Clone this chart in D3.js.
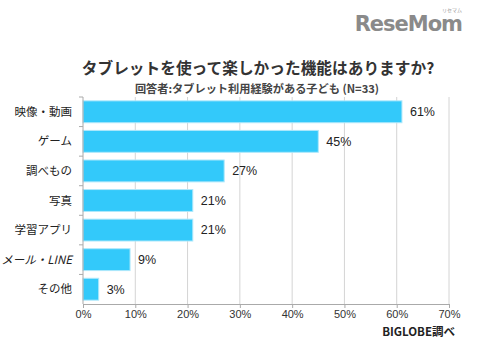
<!DOCTYPE html>
<html><head><meta charset="utf-8">
<script src="https://cdn.jsdelivr.net/npm/d3@7"></script>
<style>body{margin:0;background:#fff}svg{display:block}</style>
</head><body>
<svg id="c" width="477" height="350"></svg>
<script>
const categories = ["映像・動画","ゲーム","調べもの","写真","学習アプリ","メール・LINE","その他"];
const values = [61,45,27,21,21,9,3];
const ticks = [0,10,20,30,40,50,60,70];
const title = "タブレットを使って楽しかった機能はありますか?";
const subtitle = "回答者:タブレット利用経験がある子ども (N=33)";
const source = "BIGLOBE調べ";

const svg = d3.select("#c");
const font = "'Noto Sans CJK JP','Noto Sans',sans-serif";
const m = {l:83, r:449, t:97, b:304};
const x = d3.scaleLinear().domain([0,70]).range([m.l,m.r]);
const y = d3.scaleBand().domain(categories).range([m.t,m.b]).paddingInner(0.26).paddingOuter(0.13);

// logo
svg.append("text").attr("x",462).attr("y",31).attr("text-anchor","end")
  .attr("font-family","'DejaVu Sans',sans-serif").attr("font-weight","bold").attr("font-size",21)
  .attr("fill","#8a8a8a").attr("letter-spacing",-1).text("ReseMom");
svg.append("text").attr("x",452).attr("y",12).attr("text-anchor","middle").attr("font-family",font)
  .attr("font-size",5).attr("fill","#999").text("リセマム");

svg.append("text").attr("x",258).attr("y",74).attr("text-anchor","middle").attr("font-family",font)
  .attr("font-weight","bold").attr("font-size",15.7).attr("fill","#333").text(title);
svg.append("text").attr("x",257).attr("y",93).attr("text-anchor","middle").attr("font-family",font)
  .attr("font-weight","bold").attr("font-size",11.2).attr("fill","#444").text(subtitle);

// gridlines
svg.append("g").selectAll("line").data(ticks.slice(1)).join("line")
  .attr("x1",d=>x(d)).attr("x2",d=>x(d)).attr("y1",m.t).attr("y2",m.b)
  .attr("stroke","#d4d4d4").attr("stroke-width",1);

// bars
svg.append("g").selectAll("rect").data(values).join("rect")
  .attr("x",x(0)).attr("y",(d,i)=>y(categories[i]))
  .attr("width",d=>x(d)-x(0)).attr("height",y.bandwidth())
  .attr("fill","#33c9fa").attr("stroke","#aee8fb").attr("stroke-width",1);

// x axis
const xa = svg.append("g").attr("transform",`translate(0,${m.b})`)
  .call(d3.axisBottom(x).tickValues(ticks).tickFormat(d=>d+"%").tickSize(4));
xa.select(".domain").attr("stroke","#aaa");
xa.selectAll(".tick line").attr("stroke","#aaa");
xa.selectAll("text").attr("font-family","Arial,'Liberation Sans',sans-serif").attr("font-size",11).attr("fill","#333").attr("dy","0.6em");

// y axis
svg.append("line").attr("x1",m.l).attr("x2",m.l).attr("y1",m.t).attr("y2",m.b).attr("stroke","#aaa");
svg.append("g").selectAll("line").data(d3.range(categories.length)).join("line")
  .attr("x1",m.l-4).attr("x2",m.l).attr("y1",i=>m.t+i*(m.b-m.t)/categories.length).attr("y2",i=>m.t+i*(m.b-m.t)/categories.length)
  .attr("stroke","#aaa");

svg.append("g").selectAll("text").data(categories).join("text")
  .attr("x",72).attr("y",d=>y(d)+y.bandwidth()/2).attr("dy","0.35em").attr("text-anchor","end")
  .attr("font-family",font).attr("font-size",11.5).attr("fill","#222")
  .attr("font-style",d=>d.includes("LINE")?"italic":"normal").text(d=>d);

// value labels
svg.append("g").selectAll("text").data(values).join("text")
  .attr("x",d=>x(d)+8).attr("y",(d,i)=>y(categories[i])+y.bandwidth()/2).attr("dy","0.35em")
  .attr("font-family","Arial,'Liberation Sans',sans-serif").attr("font-size",12.5).attr("fill","#222")
  .text(d=>d+"%");

svg.append("text").attr("x",455).attr("y",336).attr("text-anchor","end").attr("font-family",font)
  .attr("font-weight","bold").attr("font-size",11.5).attr("fill","#222").text(source);
</script>
</body></html>
